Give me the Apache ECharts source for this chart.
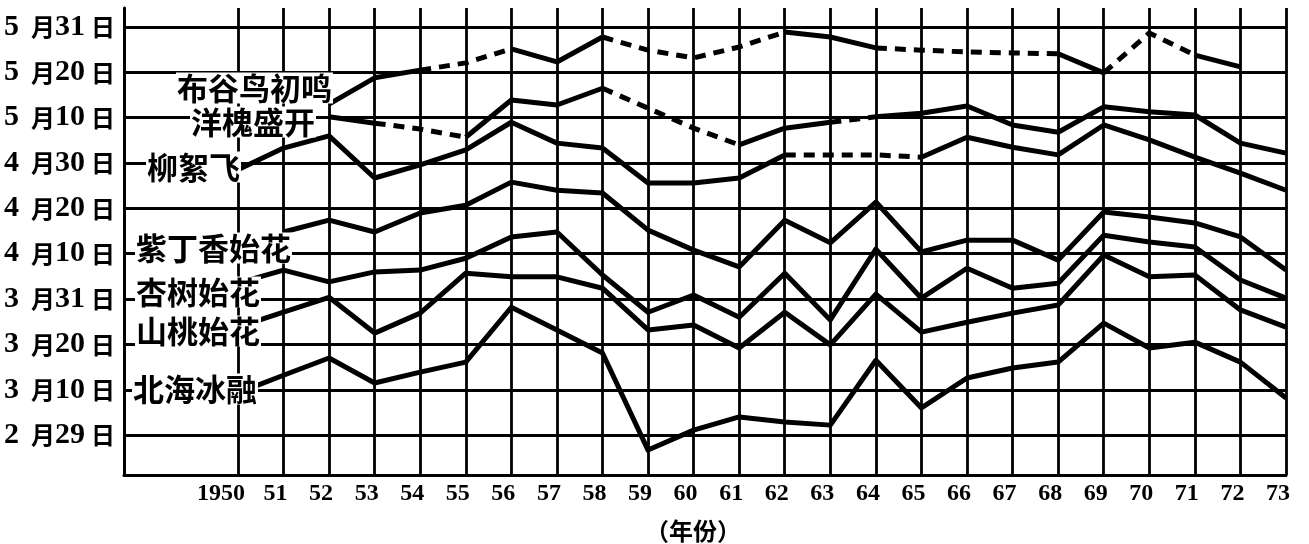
<!DOCTYPE html>
<html><head><meta charset="utf-8">
<script src="https://cdn.jsdelivr.net/npm/echarts@6/dist/echarts.min.js"></script>
<style>html,body{margin:0;padding:0;background:#fff}#c{width:1309px;height:544px}</style>
</head><body><div id="c"></div>
<script>
// Years on the x axis
const years = [1950,1951,1952,1953,1954,1955,1956,1957,1958,1959,1960,1961,1962,1963,1964,1965,1966,1967,1968,1969,1970,1971,1972,1973];
// Date ticks on the y axis (equally spaced, value = tick index)
const yTickLabels = ['2 月29日','3 月10日','3 月20日','3 月31日','4 月10日','4 月20日','4 月30日','5 月10日','5 月20日','5 月31日'];

// Values: position on the date scale in tick steps (0 = 2月29日, 1 = 3月10日, ... 9 = 5月31日)
const cuckoo  = [null,null,7.30,7.88,8.05,8.21,8.52,8.23,8.78,8.49,8.32,8.56,8.89,8.78,8.54,8.49,8.45,8.43,8.41,7.99,8.87,8.38,8.12,null];
const cuckooDashed = [[1954,1956],[1958,1962],[1964,1968],[1969,1971]];
const locust  = [null,null,7.02,6.88,6.75,6.57,7.39,7.28,7.65,7.21,6.77,6.40,6.77,6.90,7.02,7.10,7.26,6.84,6.68,7.24,7.13,7.06,6.44,6.22];
const locustDashed = [[1953,1955],[1958,1961],[1963,1964]];
const willow  = [5.85,6.33,6.60,5.67,5.96,6.29,6.90,6.44,6.33,5.56,5.56,5.67,6.18,6.18,6.18,6.13,6.57,6.35,6.18,6.84,6.51,6.13,5.78,5.40];
const willowDashed = [[1962,1965]];
const lilac   = [null,4.48,4.74,4.48,4.90,5.07,5.58,5.40,5.34,4.52,4.08,3.71,4.74,4.24,5.14,4.04,4.30,4.30,3.86,4.92,4.81,4.68,4.37,3.64];
const apricot = [3.35,3.64,3.38,3.60,3.64,3.90,4.37,4.48,3.53,2.71,3.09,2.60,3.57,2.54,4.10,3.02,3.68,3.24,3.35,4.41,4.26,4.15,3.42,3.02];
const peach   = [2.38,2.71,3.04,2.25,2.69,3.57,3.49,3.49,3.24,2.32,2.43,1.92,2.71,1.99,3.11,2.27,2.49,2.69,2.87,3.97,3.49,3.53,2.76,2.38];
const iceMelt = [0.93,1.32,1.70,1.15,1.39,1.61,2.82,2.32,1.81,-0.33,0.11,0.40,0.29,0.22,1.65,0.60,1.26,1.48,1.61,2.47,1.92,2.05,1.61,0.82];

const seriesLabels = ['布谷鸟初鸣','洋槐盛开','柳絮飞','紫丁香始花','杏树始花','山桃始花','北海冰融'];

function buildRuns(values, dashedRanges, wantDashed) {
  const isDashedSeg = i => dashedRanges.some(r => years[i] >= r[0] && years[i+1] <= r[1]);
  const out = [];
  let last = -2;
  for (let i = 0; i < years.length - 1; i++) {
    if (values[i] == null || values[i+1] == null) continue;
    if (isDashedSeg(i) !== wantDashed) continue;
    if (last !== i) {
      if (out.length) out.push([years[i] - 0.5, null]);
      out.push([years[i], values[i]]);
    }
    out.push([years[i+1], values[i+1]]);
    last = i + 1;
  }
  return out;
}

const all = [
  [cuckoo, cuckooDashed], [locust, locustDashed], [willow, willowDashed],
  [lilac, []], [apricot, []], [peach, []], [iceMelt, []]
];

const series = [{
  type: 'line', data: [], silent: true, z: 1,
  markLine: {
    silent: true, symbol: ['none','none'], label: {show:false}, animation: false,
    emphasis: {disabled: true},
    lineStyle: {color:'#000', width:2.8, type:'solid', opacity:1},
    data: years.map(y => ({xAxis: y})).concat(yTickLabels.map((_, i) => ({yAxis: i})))
  }
}];
all.forEach(([vals, dr]) => {
  [false, true].forEach(d => {
    const data = buildRuns(vals, dr, d);
    if (!data.length) return;
    series.push({
      type: 'line', data, symbol: 'none', showSymbol: false, silent: true, z: 3,
      connectNulls: false,
      lineStyle: {color:'#000', width: 5, type: d ? [11, 8] : 'solid', cap: 'butt', join: 'round'}
    });
  });
});

const labelPos = [[176,88],[190,122],[146,167],[135,248],[135,292],[135,331],[132,389]];
const cjk = '"Noto Sans CJK SC", sans-serif';
const graphics = seriesLabels.map((t, i) => ({
  type: 'text', z: 100, silent: true,
  x: labelPos[i][0], y: labelPos[i][1],
  style: {text: t, font: 'bold 31px ' + cjk, fill: '#000', align: 'left', verticalAlign: 'middle',
          backgroundColor: '#fff', padding: [0, 1, 0, 1]}
}));
graphics.push({
  type: 'text', z: 100, silent: true, x: 693, y: 531,
  style: {text: '（年份）', font: 'bold 24px ' + cjk, fill: '#000', align: 'center', verticalAlign: 'middle'}
});

const chart = echarts.init(document.getElementById('c'));
chart.setOption({
  animation: false,
  backgroundColor: '#fff',
  grid: {left: 124, right: 23, top: 8, bottom: 69, containLabel: false},
  xAxis: {
    type: 'value', min: 1947.5, max: 1973,
    axisLine: {show: true, onZero: false, lineStyle: {color:'#000', width: 3}},
    axisTick: {show: false}, splitLine: {show: false},
    axisLabel: {
      customValues: years, margin: 7, color: '#000',
      fontFamily: '"Liberation Serif", serif', fontWeight: 'bold', fontSize: 24,
      padding: [0, 16, 0, 0],
      formatter: v => v === years[0] ? '{a|' + v + '}{g|}' : String(v % 100),
      rich: {a: {fontFamily: '"Liberation Serif", serif', fontWeight: 'bold', fontSize: 24, color: '#000'}, g: {width: 18}}
    }
  },
  yAxis: {
    type: 'value', min: -0.88, max: 9.42,
    axisLine: {show: true, onZero: false, lineStyle: {color:'#000', width: 3}},
    axisTick: {show: false}, splitLine: {show: false},
    axisLabel: {
      customValues: yTickLabels.map((_, i) => i), margin: 9, color: '#000',
      fontFamily: '"Liberation Serif", serif', fontWeight: 'bold', fontSize: 24,
      formatter: v => {
        const s = yTickLabels[Math.round(v)] || '';
        const m = s.match(/^(\d+)\s*月(\d+)日$/);
        if (!m) return s;
        return '{d|' + m[1] + '}  {c|月}{d|' + m[2] + '} {c|日}';
      },
      rich: {
        d: {fontFamily: '"Liberation Serif", serif', fontWeight: 'bold', fontSize: 30, color: '#000'},
        c: {fontFamily: cjk, fontWeight: 'bold', fontSize: 24, color: '#000'}
      }
    }
  },
  graphic: graphics,
  series
});
</script>
</body></html>
